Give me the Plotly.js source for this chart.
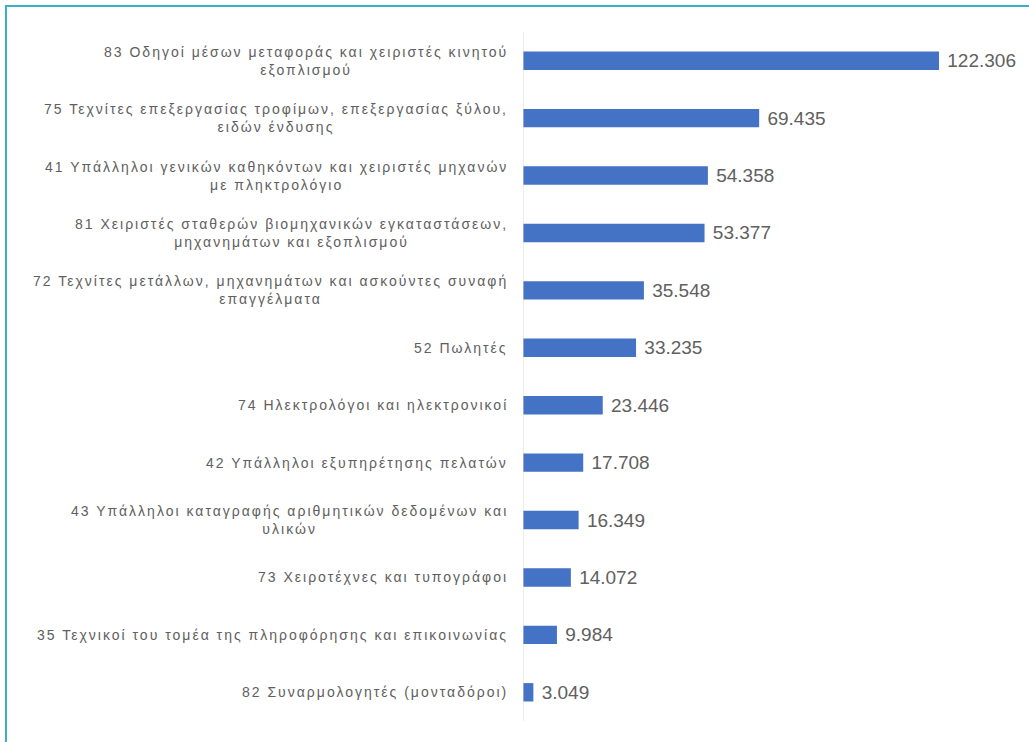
<!DOCTYPE html>
<html>
<head>
<meta charset="utf-8">
<script src="https://cdn.plot.ly/plotly-3.0.1.min.js"></script>
<style>
  html, body { margin: 0; padding: 0; background: #ffffff; }
  #wrap { position: relative; width: 1029px; height: 742px; overflow: hidden; }
  #chart { position: absolute; left: 0; top: 0; width: 1029px; height: 742px; }
  #frame { position: absolute; left: 5px; top: 5px; width: 1030px; height: 745px;
           border-top: 2px solid #3ab0c8; border-left: 2px solid #3ab0c8; pointer-events: none; }
  .annotation-text { letter-spacing: 2px; }
</style>
</head>
<body>
<div id="wrap">
  <div id="chart"></div>
  <div id="frame"></div>
</div>
<script>
const categories = [
  "83 Οδηγοί μέσων μεταφοράς και χειριστές κινητού<br>εξοπλισμού",
  "75 Τεχνίτες επεξεργασίας τροφίμων, επεξεργασίας ξύλου,<br>ειδών ένδυσης",
  "41 Υπάλληλοι γενικών καθηκόντων και χειριστές μηχανών<br>με πληκτρολόγιο",
  "81 Χειριστές σταθερών βιομηχανικών εγκαταστάσεων,<br>μηχανημάτων και εξοπλισμού",
  "72 Τεχνίτες μετάλλων, μηχανημάτων και ασκούντες συναφή<br>επαγγέλματα",
  "52 Πωλητές",
  "74 Ηλεκτρολόγοι και ηλεκτρονικοί",
  "42 Υπάλληλοι εξυπηρέτησης πελατών",
  "43 Υπάλληλοι καταγραφής αριθμητικών δεδομένων και<br>υλικών",
  "73 Χειροτέχνες και τυπογράφοι",
  "35 Τεχνικοί του τομέα της πληροφόρησης και επικοινωνίας",
  "82 Συναρμολογητές (μονταδόροι)"
];
const values = [122306, 69435, 54358, 53377, 35548, 33235, 23446, 17708, 16349, 14072, 9984, 3049];

const catIds = categories.map((c, i) => "c" + i);

const trace = {
  type: "bar",
  orientation: "h",
  y: catIds,
  x: values,
  marker: { color: "#4472C4" },
  width: 0.32,
  texttemplate: "\u00a0%{x:,.0f}",
  textposition: "outside",
  textfont: { family: "Liberation Sans, Arial, sans-serif", size: 19, color: "#606060" },
  constraintext: "none",
  cliponaxis: false,
  hoverinfo: "none"
};

const annotations = categories.map((c, i) => ({
  xref: "paper", yref: "y",
  x: -0.026, y: catIds[i],
  text: c,
  showarrow: false,
  xanchor: "right",
  yanchor: "middle",
  align: "center",
  font: { family: "Liberation Sans, Arial, sans-serif", size: 14, color: "#606060" }
}));

const layout = {
  width: 1029, height: 742,
  margin: { l: 523, r: 6, t: 32, b: 21, pad: 0 },
  paper_bgcolor: "#ffffff",
  plot_bgcolor: "#ffffff",
  separators: ",.",
  showlegend: false,
  xaxis: { range: [0, 147000], visible: false, fixedrange: true },
  yaxis: {
    type: "category",
    autorange: "reversed",
    showticklabels: false,
    showgrid: false,
    zeroline: false,
    showline: false,
    ticks: ""
  },
  shapes: [{
    type: "line", xref: "x", yref: "paper",
    x0: 0, x1: 0, y0: 0, y1: 1,
    line: { color: "#d9d9d9", width: 1 }
  }],
  annotations: annotations
};

Plotly.newPlot("chart", [trace], layout, { staticPlot: true, displayModeBar: false });
</script>
</body>
</html>
